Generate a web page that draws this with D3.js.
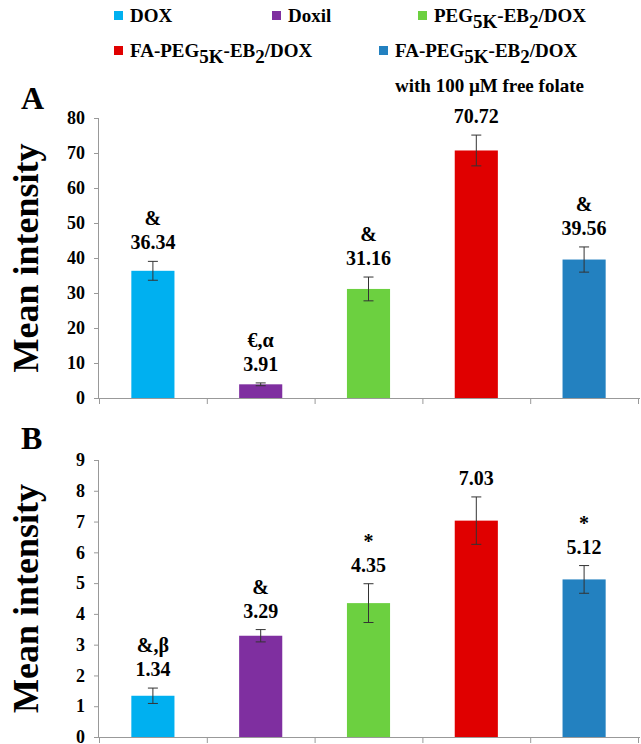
<!DOCTYPE html>
<html><head><meta charset="utf-8">
<script src="https://cdn.jsdelivr.net/npm/d3@7"></script>
<style>body{margin:0;background:#fff}svg{display:block}</style>
</head><body><svg id="c" width="641" height="744"></svg>
<script>
const categories = ["DOX","Doxil","PEG5K-EB2/DOX","FA-PEG5K-EB2/DOX","FA-PEG5K-EB2/DOX + folate"];
const colors = ["#00B0F0","#7F2FA0","#6CD040","#E00000","#2381C0"];
const valuesA = [36.34, 3.91, 31.16, 70.72, 39.56];
const errorsA = [2.7, 0.4, 3.4, 4.4, 3.6];
const marksA = ["&", "€,α", "&", "", "&"];
const valuesB = [1.34, 3.29, 4.35, 7.03, 5.12];
const errorsB = [0.25, 0.2, 0.63, 0.77, 0.45];
const marksB = ["&,β", "&", "*", "", "*"];
const ticksA = [0,10,20,30,40,50,60,70,80];
const ticksB = [0,1,2,3,4,5,6,7,8,9];

const FONT = "Liberation Serif, DejaVu Serif, serif";
const svg = d3.select("#c");
const x = d3.scaleBand().domain(categories).range([99, 638]).paddingInner(0.6).paddingOuter(0.3);

function T(sel) { return sel.attr("font-weight", "bold").style("font-family", FONT); }

function panel(letter, vals, errs, marks, ticks, yTop, yBot, letterY) {
  const y = d3.scaleLinear().domain([0, d3.max(ticks)]).range([yBot, yTop]);
  const g = svg.append("g");
  const ya = g.append("g").attr("transform", "translate(99,0)")
    .call(d3.axisLeft(y).tickValues(ticks).tickSize(5).tickPadding(9).tickFormat(d3.format("d")));
  ya.attr("font-family", null).attr("font-size", null);
  ya.select(".domain").attr("stroke", "#999").attr("d", `M-0.5,${yTop}V${yBot}`);
  ya.selectAll(".tick line").attr("stroke", "#999");
  T(ya.selectAll(".tick text")).attr("fill", "#000").style("font-size", "18px");
  const r = x.range();
  g.append("line").attr("x1", r[0]-5).attr("x2", r[1]+2).attr("y1", yBot+0.5).attr("y2", yBot+0.5).attr("stroke", "#999");
  const off = (x.step() - x.bandwidth()) / 2;
  const bounds = categories.map(c => x(c) - off).concat([r[1]]);
  g.selectAll(".xt").data(bounds).join("line").attr("x1", d => d+0.5).attr("x2", d => d+0.5)
    .attr("y1", yBot).attr("y2", yBot+6).attr("stroke", "#999");
  g.selectAll(".bar").data(vals).join("rect")
    .attr("x", (d,i) => x(categories[i])).attr("width", x.bandwidth())
    .attr("y", d => y(d)).attr("height", d => yBot - y(d)).attr("fill", (d,i) => colors[i]);
  vals.forEach((v,i) => {
    const cx = x(categories[i]) + x.bandwidth()/2;
    const t = y(v + errs[i]), b = y(v - errs[i]);
    g.append("path").attr("d", `M${cx},${t}V${b}M${cx-5},${t}H${cx+5}M${cx-5},${b}H${cx+5}`)
      .attr("stroke", "#333").attr("stroke-width", 1).attr("fill", "none");
    T(g.append("text")).attr("x", cx).attr("y", t - 12).attr("text-anchor", "middle")
      .style("font-size", "20px").text(v.toFixed(2));
    if (marks[i]) T(g.append("text")).attr("x", cx).attr("y", t - 36).attr("text-anchor", "middle")
      .style("font-size", "20px").text(marks[i]);
  });
  T(g.append("text")).attr("transform", `translate(38,${(yTop+yBot)/2}) rotate(-90)`)
    .attr("text-anchor", "middle").style("font-size", "36px").text("Mean intensity");
  T(g.append("text")).attr("x", 21).attr("y", letterY).style("font-size", "32px").text(letter);
}
panel("A", valuesA, errorsA, marksA, ticksA, 118, 398, 109);
panel("B", valuesB, errorsB, marksB, ticksB, 460, 737, 449);

const legend = [
  {i:0, x:114, y:22, parts:[["DOX",0]]},
  {i:1, x:272, y:22, parts:[["Doxil",0]]},
  {i:2, x:418, y:22, parts:[["PEG",0],["5K",1],["-EB",0],["2",1],["/DOX",0]]},
  {i:3, x:114, y:57, parts:[["FA-PEG",0],["5K",1],["-EB",0],["2",1],["/DOX",0]]},
  {i:4, x:379, y:57, parts:[["FA-PEG",0],["5K",1],["-EB",0],["2",1],["/DOX",0]]}
];
legend.forEach(l => {
  svg.append("rect").attr("x", l.x).attr("y", l.y-11).attr("width", 9).attr("height", 9).attr("fill", colors[l.i]);
  const t = T(svg.append("text")).attr("x", l.x+16).attr("y", l.y).style("font-size", "19px");
  let prev = 0;
  l.parts.forEach(p => {
    t.append("tspan").attr("dy", (p[1]-prev)*6).text(p[0]);
    prev = p[1];
  });
});
T(svg.append("text")).attr("x", 395).attr("y", 92).style("font-size", "19px").text("with 100 µM free folate");
</script></body></html>
